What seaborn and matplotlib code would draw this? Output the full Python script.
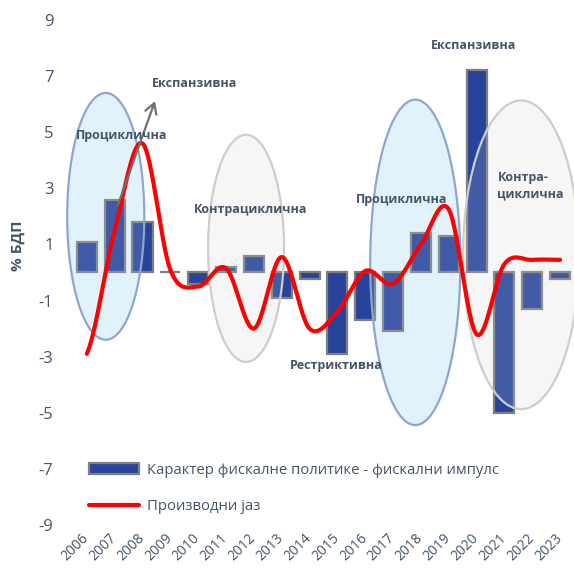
import numpy as np
import pandas as pd
import matplotlib
matplotlib.use("Agg")
import matplotlib.pyplot as plt
import matplotlib.transforms as mtransforms
from matplotlib.patches import Ellipse, Rectangle
from matplotlib.lines import Line2D
import seaborn as sns

years = [str(y) for y in range(2006, 2024)]
fiscal_impulse = [1.1, 2.6, 1.8, 0.03, -0.4, 0.2, 0.6, -0.9, -0.25, -2.9,
                  -1.7, -2.1, 1.4, 1.3, 7.2, -5.0, -1.3, -0.25]
output_gap = [-2.9, 1.5, 4.6, 0.1, -0.5, 0.15, -2.0, 0.55, -2.0, -1.4,
              0.05, -0.4, 1.0, 2.25, -2.2, 0.3, 0.45, 0.45]
yticks = [9, 7, 5, 3, 1, -1, -3, -5, -7, -9]

bar_label = "Карактер фискалне политике - фискални импулс"
line_label = "Производни јаз"

TXT = "#44546A"
BAR = "#27449A"

sns.set_theme(style="white")
plt.rcParams['font.family'] = ['Open Sans', 'DejaVu Sans']

fig = plt.figure(figsize=(5.74, 5.71), dpi=100)
ax = fig.add_axes([0.127, 0.0806, 0.873, 0.8844])

df = pd.DataFrame({"year": years, "impulse": fiscal_impulse})
sns.barplot(data=df, x="year", y="impulse", order=years, color=BAR,
            saturation=1, width=0.72, edgecolor="#7F7F7F", linewidth=1.6,
            ax=ax, zorder=2)

# smooth (Catmull-Rom) rendering of the output gap line
def catmull(vals, n=30):
    p = np.asarray(vals, float)
    pp = np.concatenate([[p[0]], p, [p[-1]]])
    xs, ys = [], []
    for i in range(len(p) - 1):
        P0, P1, P2, P3 = pp[i], pp[i + 1], pp[i + 2], pp[i + 3]
        t = np.linspace(0, 1, n, endpoint=False)
        y = 0.5 * (2 * P1 + (-P0 + P2) * t + (2 * P0 - 5 * P1 + 4 * P2 - P3) * t ** 2
                   + (-P0 + 3 * P1 - 3 * P2 + P3) * t ** 3)
        xs.append(i + t)
        ys.append(y)
    xs.append([len(p) - 1])
    ys.append([p[-1]])
    return np.concatenate(xs), np.concatenate(ys)

sx, sy = catmull(output_gap)

# ellipses: (center x, center y, width, height, fill, edge)
ells = [
    (0.68, 2.0, 2.77, 8.8, "#E2F2FA", "#8EA5CF"),
    (5.72, 0.86, 2.73, 8.1, "#F6F6F6", "#CDCDCD"),
    (11.8, 0.36, 3.24, 11.6, "#E2F2FA", "#8EA5CF"),
    (15.6, 0.63, 4.17, 11.0, "#F6F6F6", "#CDCDCD"),
]
for cx, cy, w, h, fc, ec in ells:
    ax.add_patch(Ellipse((cx, cy), w, h, facecolor=fc, edgecolor="none",
                         zorder=1, clip_on=False))
    ax.add_patch(Ellipse((cx, cy), w, h, facecolor=fc, alpha=0.13,
                         edgecolor="none", zorder=2.5, clip_on=False))
    ax.add_patch(Ellipse((cx, cy), w, h, facecolor="none", edgecolor=ec,
                         linewidth=1.6, zorder=2.6, clip_on=False))

ax.plot(sx, sy, color="#FF0000", lw=3.0, zorder=4, solid_capstyle="round")

# arrow
ax.annotate("", xy=(2.48, 6.2), xytext=(1.08, 2.3),
            arrowprops=dict(arrowstyle="->,head_length=0.6,head_width=0.35",
                            color="#707070", lw=1.6), zorder=5)

lab = dict(color=TXT, fontsize=9, fontweight="bold", zorder=6)
ax.text(3.88, 6.75, "Експанзивна", ha="center", va="center", **lab)
ax.text(1.26, 4.9, "Проциклична", ha="center", va="center", **lab)
ax.text(5.9, 2.25, "Контрациклична", ha="center", va="center", **lab)
ax.text(8.97, -3.3, "Рестриктивна", ha="center", va="center", **lab)
ax.text(11.3, 2.6, "Проциклична", ha="center", va="center", **lab)
ax.text(13.9, 8.1, "Експанзивна", ha="center", va="center", **lab)
ax.text(14.75, 3.1, "Контра-\nциклична", ha="left", va="center",
        linespacing=1.3, **lab)

ax.set_ylim(-9, 9)
ax.set_xlim(-0.5, len(years) - 0.5)
ax.set_yticks(yticks)
ax.set_yticklabels([str(v) for v in yticks], fontsize=12, color=TXT)
ax.set_xticks(range(len(years)))
ax.set_xticklabels(years, rotation=45, ha="right", rotation_mode="anchor",
                   fontsize=10, color=TXT)
ax.tick_params(axis="y", length=0, pad=14)
ax.tick_params(axis="x", length=0, pad=4)
off = mtransforms.ScaledTranslation(-4 / 72, 0, fig.dpi_scale_trans)
for t in ax.get_xticklabels():
    t.set_transform(t.get_transform() + off)
ax.set_xlabel("")
ax.set_ylabel("% БДП", fontsize=11, fontweight="bold", color=TXT)
ax.yaxis.set_label_coords(-0.095, 0.552)
for s in ax.spines.values():
    s.set_visible(False)
ax.grid(False)

h1 = Rectangle((0, 0), 1, 1, facecolor=BAR, edgecolor="#7F7F7F", linewidth=1.6)
h2 = Line2D([], [], color="#FF0000", lw=3)
leg = ax.legend([h1, h2], [bar_label, line_label], loc="lower left",
                bbox_to_anchor=(0.005, -0.005), frameon=False, fontsize=10.7,
                handlelength=3.4, handleheight=0.8, labelspacing=1.45,
                handletextpad=0.5, labelcolor=TXT)

fig.savefig("out.png", dpi=100)
